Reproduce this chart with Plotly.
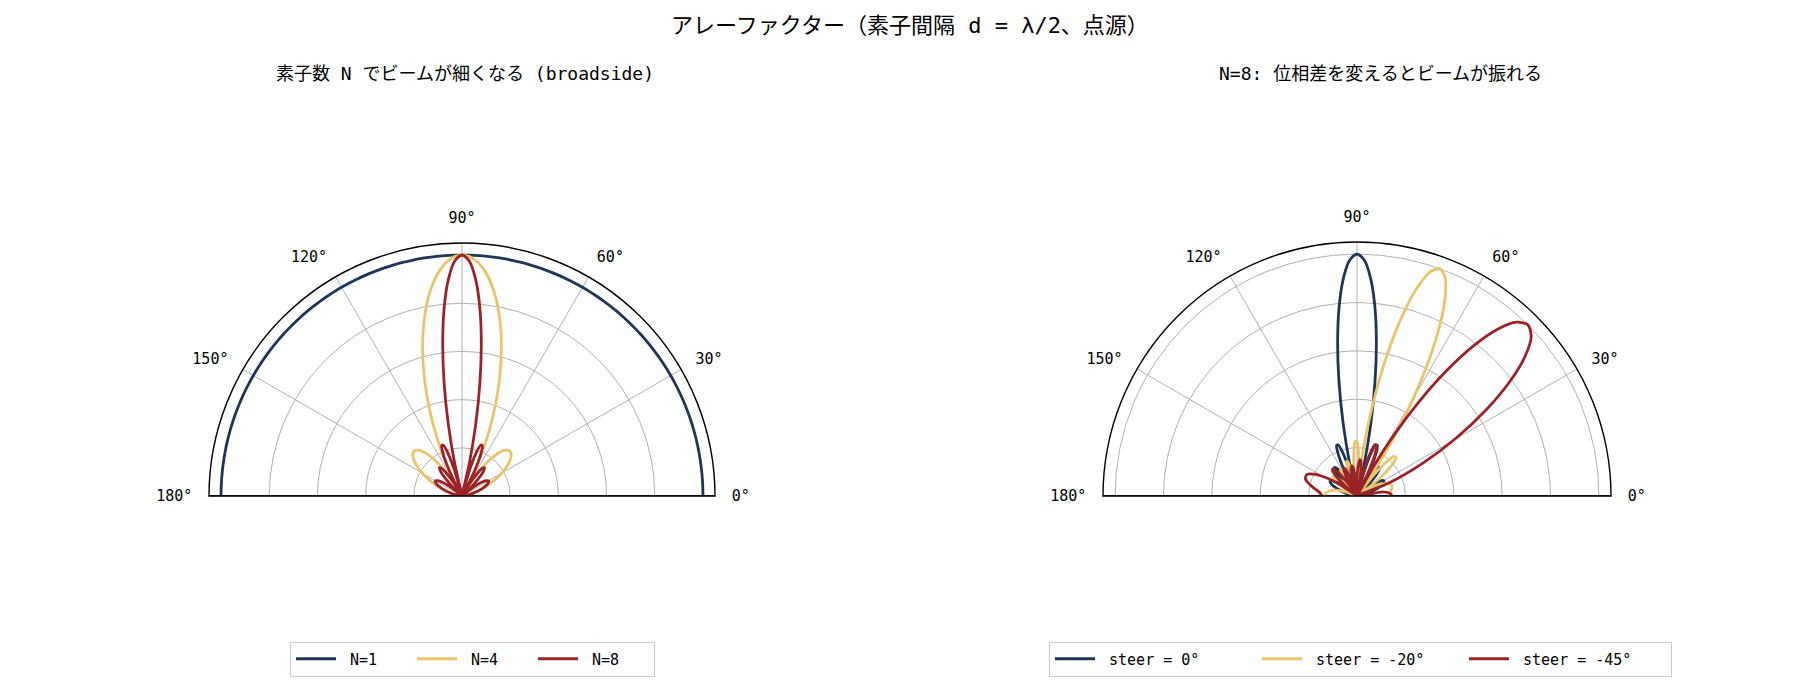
import plotly.graph_objects as go

# 左: ブロードサイド (d = λ/2) の角度 [deg] と正規化 |AF|
bs_theta = [0, 5, 10, 14.36, 20.36, 25.02, 28.96, 32.46, 35.66, 38.62, 41.41, 44.05, 46.57,
            48.99, 51.32, 53.58, 55.77, 57.91, 60.0, 62.05, 64.06, 66.03, 67.98, 69.89, 71.79,
            73.67, 75.52, 77.36, 79.19, 81.01, 82.82, 84.62, 86.42, 88.21, 90.0, 91.79, 93.58,
            95.38, 97.18, 98.99, 100.81, 102.64, 104.48, 106.33, 108.21, 110.11, 112.02, 113.97,
            115.94, 117.95, 120.0, 122.09, 124.23, 126.42, 128.68, 131.01, 133.43, 135.95,
            138.59, 141.38, 144.34, 147.54, 151.04, 154.98, 159.64, 165.64, 170, 175, 180]

n1_theta = list(range(0, 181, 2))
n1_r = [1.0] * len(n1_theta)

n4_r = [0, 0.0060, 0.0238, 0.0488, 0.0961, 0.1404, 0.1802, 0.2143, 0.2414, 0.2604, 0.2706,
        0.2712, 0.2619, 0.2423, 0.2126, 0.1729, 0.1238, 0.0658, 0, 0.0726, 0.1508, 0.2332,
        0.3182, 0.4043, 0.4900, 0.5735, 0.6533, 0.7278, 0.7957, 0.8555, 0.9061, 0.9466,
        0.9760, 0.9939, 1.0, 0.9939, 0.9760, 0.9466, 0.9061, 0.8555, 0.7957, 0.7278, 0.6533,
        0.5735, 0.4900, 0.4043, 0.3182, 0.2332, 0.1508, 0.0726, 0, 0.0658, 0.1238, 0.1729,
        0.2126, 0.2423, 0.2619, 0.2712, 0.2706, 0.2604, 0.2414, 0.2143, 0.1802, 0.1404,
        0.0961, 0.0488, 0.0238, 0.0060, 0]

n8_r = [0, 0.0060, 0.0237, 0.0479, 0.0888, 0.1167, 0.1274, 0.1191, 0.0924, 0.0508, 0,
        0.0529, 0.1002, 0.1346, 0.1503, 0.1438, 0.1143, 0.0646, 0, 0.0712, 0.1393, 0.1939,
        0.2250, 0.2246, 0.1875, 0.1119, 0, 0.1420, 0.3045, 0.4753, 0.6407, 0.7871, 0.9017,
        0.9748, 1.0, 0.9748, 0.9017, 0.7871, 0.6407, 0.4753, 0.3045, 0.1420, 0, 0.1119,
        0.1875, 0.2246, 0.2250, 0.1939, 0.1393, 0.0712, 0, 0.0646, 0.1143, 0.1438, 0.1503,
        0.1346, 0.1002, 0.0529, 0, 0.0508, 0.0924, 0.1191, 0.1274, 0.1167, 0.0888, 0.0479,
        0.0237, 0.0060, 0]

# 右: N=8, ステアリング
s20_theta = [0, 3.37, 14.76, 20.65, 25.24, 29.16, 32.64, 35.83, 38.78, 41.56, 44.19, 46.70,
             49.11, 51.45, 53.70, 55.89, 58.03, 60.11, 62.16, 64.17, 66.14, 68.08, 70.00,
             71.89, 73.77, 75.63, 77.47, 79.29, 81.11, 82.92, 84.72, 86.52, 88.31, 90.10,
             91.89, 93.68, 95.48, 97.28, 99.09, 100.91, 102.74, 104.58, 106.44, 108.32,
             110.21, 112.13, 114.08, 116.05, 118.07, 120.11, 122.21, 124.35, 126.55, 128.81,
             131.14, 133.57, 136.09, 138.74, 141.53, 144.51, 147.72, 151.25, 155.23, 159.92,
             166.04, 173, 180]
s20_r = [0.1332, 0.1346, 0.1503, 0.1438, 0.1143, 0.0646, 0, 0.0712, 0.1393, 0.1939, 0.2250,
         0.2246, 0.1875, 0.1119, 0, 0.1420, 0.3045, 0.4753, 0.6407, 0.7871, 0.9017, 0.9748,
         1.0, 0.9748, 0.9017, 0.7871, 0.6407, 0.4753, 0.3045, 0.1420, 0, 0.1119, 0.1875,
         0.2246, 0.2250, 0.1939, 0.1393, 0.0712, 0, 0.0646, 0.1143, 0.1438, 0.1503, 0.1346,
         0.1002, 0.0529, 0, 0.0508, 0.0924, 0.1191, 0.1274, 0.1167, 0.0888, 0.0479, 0,
         0.0479, 0.0888, 0.1167, 0.1274, 0.1191, 0.0924, 0.0508, 0, 0.0529, 0.1002, 0.1262,
         0.1332]

s45_theta = [0, 4, 8.75, 16.84, 22.20, 26.54, 30.30, 33.68, 36.79, 39.68, 42.41, 45.00, 47.48,
             49.87, 52.16, 54.40, 56.58, 58.69, 60.77, 62.80, 64.79, 66.76, 68.69, 70.60,
             72.49, 74.36, 76.21, 78.05, 79.87, 81.68, 83.49, 85.29, 87.08, 88.88, 90.67,
             92.46, 94.25, 96.05, 97.85, 99.67, 101.49, 103.32, 105.17, 107.03, 108.91,
             110.82, 112.75, 114.70, 116.69, 118.71, 120.77, 122.88, 125.04, 127.26, 129.54,
             131.90, 134.36, 136.92, 139.61, 142.46, 145.50, 148.81, 152.46, 156.62, 161.65,
             168.63, 175, 180]
s45_r = [0.1445, 0.1381, 0.1119, 0, 0.1420, 0.3045, 0.4753, 0.6407, 0.7871, 0.9017, 0.9748,
         1.0, 0.9748, 0.9017, 0.7871, 0.6407, 0.4753, 0.3045, 0.1420, 0, 0.1119, 0.1875,
         0.2246, 0.2250, 0.1939, 0.1393, 0.0712, 0, 0.0646, 0.1143, 0.1438, 0.1503, 0.1346,
         0.1002, 0.0529, 0, 0.0508, 0.0924, 0.1191, 0.1274, 0.1167, 0.0888, 0.0479, 0,
         0.0479, 0.0888, 0.1167, 0.1274, 0.1191, 0.0924, 0.0508, 0, 0.0529, 0.1002, 0.1346,
         0.1503, 0.1438, 0.1143, 0.0646, 0, 0.0712, 0.1393, 0.1939, 0.2250, 0.2246, 0.1875,
         0.1540, 0.1445]

NAVY = "#1d3557"
GOLD = "#e9c46a"
RED = "#9b2226"
FONT = "DejaVu Sans Mono, Noto Sans CJK JP"
R_MAX = 1.05
GAP = "\u00a0"  # 凡例の線と文字の間を少し空ける

# ページの body 余白 (8px) 分だけ図を小さくする
W, H = 1812, 692

left = [("N=1", n1_theta, n1_r, NAVY), ("N=4", bs_theta, n4_r, GOLD), ("N=8", bs_theta, n8_r, RED)]
right = [("steer = 0°", bs_theta, n8_r, NAVY), ("steer = -20°", s20_theta, s20_r, GOLD),
         ("steer = -45°", s45_theta, s45_r, RED)]

fig = go.Figure()

# 0°-180° の底辺 (matplotlib の spine 相当)
for sub in ["polar", "polar2"]:
    fig.add_trace(go.Scatterpolar(r=[R_MAX, 0, R_MAX], theta=[0, 0, 180], mode="lines",
                                  line=dict(color="black", width=1.4), subplot=sub,
                                  showlegend=False, hoverinfo="skip"))

for name, th, r, c in left:
    fig.add_trace(go.Scatterpolar(r=r, theta=th, mode="lines", name=GAP + name, subplot="polar",
                                  line=dict(color=c, width=2.8, shape="spline", smoothing=0.8),
                                  legend="legend"))
for name, th, r, c in right:
    fig.add_trace(go.Scatterpolar(r=r, theta=th, mode="lines", name=GAP + name, subplot="polar2",
                                  line=dict(color=c, width=2.8, shape="spline", smoothing=0.8),
                                  legend="legend2"))

polar_style = dict(
    sector=[0, 180],
    bgcolor="white",
    radialaxis=dict(range=[0, R_MAX], tickvals=[0.2, 0.4, 0.6, 0.8, 1.0], showticklabels=False,
                    ticks="", showline=False, gridcolor="#b0b0b0", gridwidth=1),
    angularaxis=dict(direction="counterclockwise", rotation=0, tickvals=[0, 30, 60, 90, 120, 150, 180],
                     ticktext=["0°", "30°", "60°", "90°", "120°", "150°", "180°"],
                     ticks="outside", ticklen=13, tickcolor="rgba(0,0,0,0)",
                     showline=True, linecolor="black", linewidth=1.4,
                     gridcolor="#b0b0b0", gridwidth=1, tickfont=dict(size=15, color="black")),
)

legend_style = dict(orientation="h", xanchor="left", yanchor="middle", y=(700 - 659) / H,
                    bordercolor="#cccccc", borderwidth=1, bgcolor="white",
                    font=dict(size=15, color="black"), itemwidth=40)

fig.update_layout(
    width=W, height=H,
    margin=dict(l=0, r=0, t=0, b=0),
    paper_bgcolor="white",
    font=dict(family=FONT, color="black"),
    title=dict(text="アレーファクター（素子間隔 d = λ/2、点源）", x=(910 - 8) / W, xanchor="center",
               y=(700 - 25) / H, yanchor="middle", font=dict(size=22)),
    polar=dict(domain=dict(x=[(209 - 8) / W, (715 - 8) / W], y=[(700 - 496) / H, (700 - 243) / H]),
               **polar_style),
    polar2=dict(domain=dict(x=[(1103 - 8) / W, (1611 - 8) / W], y=[(700 - 496) / H, (700 - 242) / H]),
                **polar_style),
    legend=dict(x=(290 - 8) / W, entrywidth=66, **legend_style),
    legend2=dict(x=(1049 - 8) / W, entrywidth=152, **legend_style),
    annotations=[
        dict(text="素子数 N でビームが細くなる (broadside)", x=(465 - 8) / W, y=(700 - 73) / H,
             xref="paper", yref="paper", showarrow=False, xanchor="center", yanchor="middle",
             font=dict(size=18)),
        dict(text="N=8: 位相差を変えるとビームが振れる", x=(1380 - 8) / W, y=(700 - 73) / H,
             xref="paper", yref="paper", showarrow=False, xanchor="center", yanchor="middle",
             font=dict(size=18)),
    ],
)

fig.write_html("out.html")
